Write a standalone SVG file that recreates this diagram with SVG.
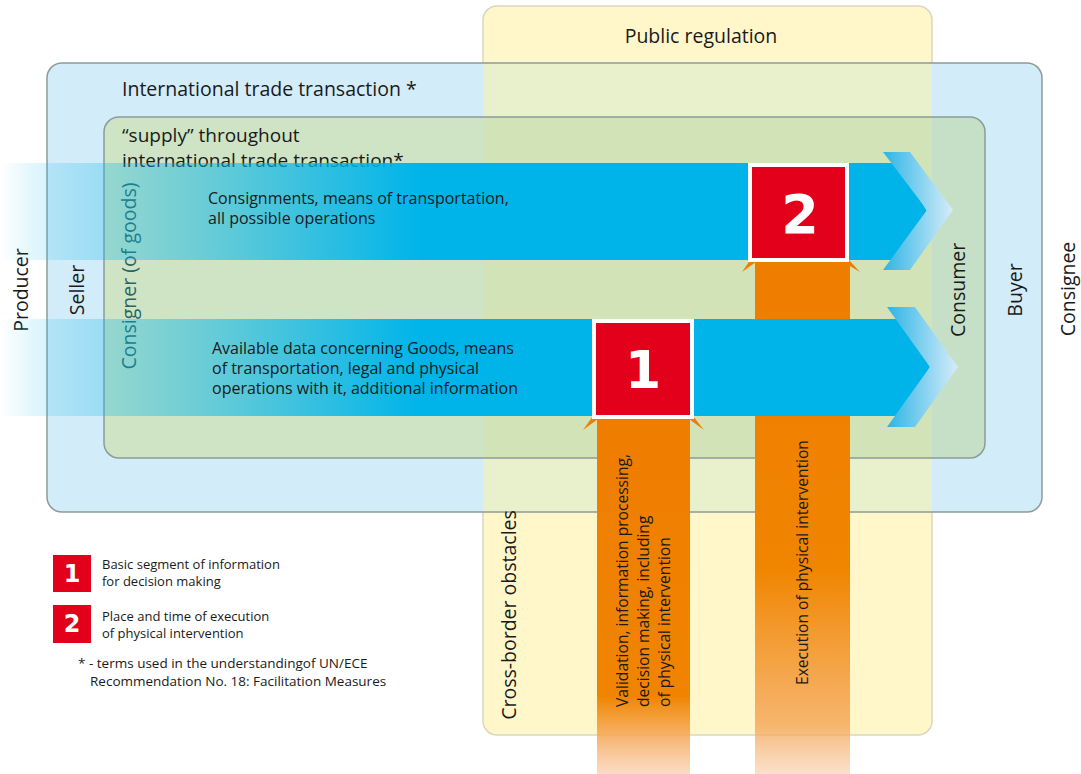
<svg xmlns="http://www.w3.org/2000/svg" width="1081" height="774" viewBox="0 0 1081 774">
<defs>
<style>
text{font-family:"Open Sans","Noto Sans","DejaVu Sans",sans-serif;fill:#1a1a1a}
.lbl{font-size:19.5px}
.sup{font-size:19px}
.rot{font-size:19.5px;text-anchor:middle;dominant-baseline:central}
.arr{font-size:16px}
.bar{font-size:15.6px}
.leg{font-size:13px}
.foot{font-size:13.5px}
.num{font-family:"DejaVu Sans",sans-serif;font-weight:bold;fill:#fff;text-anchor:middle;dominant-baseline:central}
.box{stroke:#8c9c98;stroke-width:1.5}
.red{fill:#e2001a}
.tab{fill:#ef7d00}
</style>
<linearGradient id="band" gradientUnits="userSpaceOnUse" x1="0" y1="0" x2="420" y2="0">
<stop offset="0" stop-color="#00b4ea" stop-opacity="0"/>
<stop offset="0.08" stop-color="#00b4ea" stop-opacity="0.12"/>
<stop offset="0.5" stop-color="#00b4ea" stop-opacity="0.5"/>
<stop offset="1" stop-color="#00b4ea" stop-opacity="1"/>
</linearGradient>
<linearGradient id="chev" x1="0" y1="0" x2="1" y2="0">
<stop offset="0" stop-color="#2db5e6"/>
<stop offset="1" stop-color="#d6ecf9"/>
</linearGradient>
<linearGradient id="bar1" gradientUnits="userSpaceOnUse" x1="0" y1="419" x2="0" y2="774">
<stop offset="0" stop-color="#ef7d00"/>
<stop offset="0.78" stop-color="#f08400"/>
<stop offset="0.89" stop-color="#f5a550" stop-opacity="0.85"/>
<stop offset="1" stop-color="#f6b27a" stop-opacity="0.45"/>
</linearGradient>
<linearGradient id="bar2" gradientUnits="userSpaceOnUse" x1="0" y1="262" x2="0" y2="774">
<stop offset="0" stop-color="#ef7d00"/>
<stop offset="0.6" stop-color="#f08500"/>
<stop offset="0.9" stop-color="#f5a85a" stop-opacity="0.85"/>
<stop offset="1" stop-color="#f6b27a" stop-opacity="0.4"/>
</linearGradient>
</defs>
<rect width="1081" height="774" fill="#fff"/>

<g id="public-regulation">
<rect x="483" y="6" width="449" height="729" rx="14" fill="#fff7c9" stroke="#d9d7c0" stroke-width="1.5"/>
<text class="lbl" x="701" y="43" text-anchor="middle">Public regulation</text>
</g>

<g id="international-trade-transaction">
<path d="M483 63 H62 A15 15 0 0 0 47 78 V497 A15 15 0 0 0 62 512 H483 Z" fill="#d3ecf9"/>
<path d="M932 63 H1027 A15 15 0 0 1 1042 78 V497 A15 15 0 0 1 1027 512 H932 Z" fill="#d3ecf9"/>
<rect x="483" y="63" width="449" height="449" fill="#e8f0cc"/>
<rect x="47" y="63" width="995" height="449" rx="15" fill="none" class="box"/>
<text class="lbl" x="122" y="96">International trade transaction *</text>
</g>

<g id="supply">
<path d="M483 117 H119 A15 15 0 0 0 104 132 V443 A15 15 0 0 0 119 458 H483 Z" fill="#cee4c4"/>
<rect x="483" y="117" width="449" height="341" fill="#d3e3b8"/>
<path d="M932 117 H970 A15 15 0 0 1 985 132 V443 A15 15 0 0 1 970 458 H932 Z" fill="#c6e0c8"/>
<rect x="104" y="117" width="881" height="341" rx="15" fill="none" class="box"/>
<text class="sup" x="122" y="142">“supply” throughout</text>
<text class="sup" x="122" y="167">international trade transaction*</text>
</g>

<g id="side-labels">
<text class="rot" transform="translate(20 290) rotate(-90)">Producer</text>
<text class="rot" transform="translate(76 290) rotate(-90)">Seller</text>
<text class="rot" transform="translate(128 276) rotate(-90)" style="fill:#2a6464">Consigner (of goods)</text>
<text class="rot" transform="translate(957 290) rotate(-90)">Consumer</text>
<text class="rot" transform="translate(1014 290) rotate(-90)">Buyer</text>
<text class="rot" transform="translate(1067 289) rotate(-90)">Consignee</text>
<text class="rot" transform="translate(508 615) rotate(-90)">Cross-border obstacles</text>
</g>

<g id="connectors">
<g id="execution-bar">
<rect x="755" y="262" width="95" height="512" fill="url(#bar2)"/>
<text class="bar" transform="translate(808 685) rotate(-90)">Execution of physical intervention</text>
</g>
<g id="flow-consignments">
<polygon points="0,163 897,163 927,211 897,260 0,260" fill="url(#band)"/>
<polygon points="883,152 910,152 953,210 910,270 883,270 927,210" fill="url(#chev)"/>
<text class="arr" x="208" y="204">Consignments, means of transportation,</text>
<text class="arr" x="208" y="224">all possible operations</text>
</g>
<g id="flow-data">
<polygon points="0,319 900,319 930,367 900,416 0,416" fill="url(#band)"/>
<polygon points="887,307 915,307 958,367 915,427 887,427 930,367" fill="url(#chev)"/>
<text class="arr" x="212" y="354">Available data concerning Goods, means</text>
<text class="arr" x="212" y="374">of transportation, legal and physical</text>
<text class="arr" x="212" y="394">operations with it, additional information</text>
</g>
<g id="validation-bar">
<rect x="597" y="419" width="93" height="355" fill="url(#bar1)"/>
<text class="bar" transform="translate(628 707) rotate(-90)">Validation, information processing,</text>
<text class="bar" transform="translate(649 707) rotate(-90)">decision making, including</text>
<text class="bar" transform="translate(670 707) rotate(-90)">of physical intervention</text>
</g>
</g>

<g id="marker-1">
<polygon class="tab" points="583,430 593,416 598,419"/>
<polygon class="tab" points="704,430 693,416 689,419"/>
<rect x="592" y="319" width="102" height="100" fill="#fff"/>
<rect class="red" x="596" y="323" width="94" height="92"/>
<text class="num" x="643" y="370" font-size="52">1</text>
</g>

<g id="marker-2">
<polygon class="tab" points="742,272 751,259 756,262"/>
<polygon class="tab" points="860,272 848,259 843,262"/>
<rect x="748" y="163" width="101" height="99" fill="#fff"/>
<rect class="red" x="752" y="167" width="93" height="91"/>
<text class="num" x="800" y="214" font-size="54">2</text>
</g>

<g id="legend">
<rect class="red" x="53" y="555" width="38" height="37"/>
<text class="num" x="72" y="574" font-size="24">1</text>
<text class="leg" x="102" y="569">Basic segment of information</text>
<text class="leg" x="102" y="586">for decision making</text>
<rect class="red" x="53" y="605" width="38" height="38"/>
<text class="num" x="72" y="624" font-size="24">2</text>
<text class="leg" x="102" y="621">Place and time of execution</text>
<text class="leg" x="102" y="638">of physical intervention</text>
<text class="foot" x="78" y="668">* - terms used in the understandingof UN/ECE</text>
<text class="foot" x="90" y="686">Recommendation No. 18: Facilitation Measures</text>
</g>
</svg>
